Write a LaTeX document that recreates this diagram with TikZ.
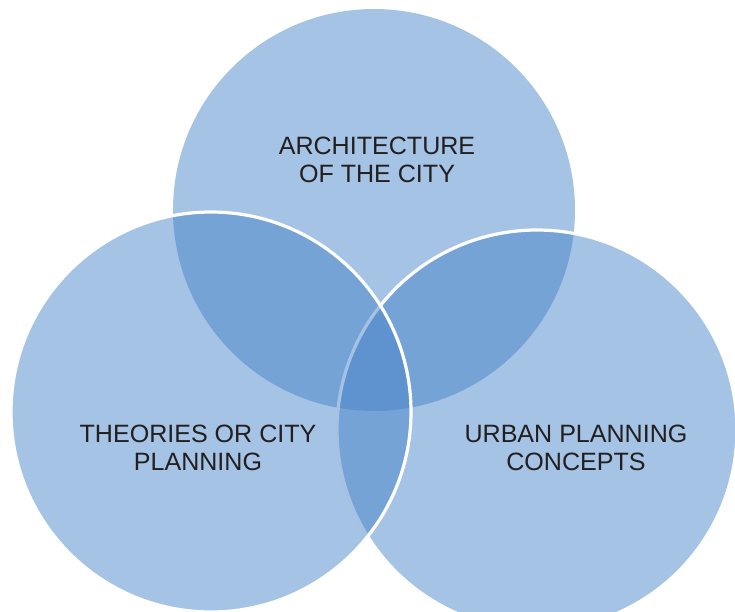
\documentclass[tikz,border=0pt]{standalone}
\usepackage{fontspec}
\setmainfont{Liberation Sans}
\definecolor{vennblue}{RGB}{67,129,199}
\definecolor{venntext}{RGB}{35,31,32}
\tikzset{
    venn/.style={circle, fill=vennblue, fill opacity=0.48, inner sep=0pt},
    vennrim/.style={venn, draw=white, line width=2.4pt},
    venntxt/.style={align=center, text=venntext, font=\fontsize{18.8}{20.9}\selectfont}
}

\begin{document}
\begin{tikzpicture}[x=0.75pt, y=-0.75pt]
    \clip (0,0) rectangle (735,611);
    \node[venn, minimum size=301.5pt] (arch) at (374,210) {};
    \node[vennrim, minimum size=300pt] (urban) at (537,430) {};
    \node[vennrim, minimum size=300pt] (theory) at (211,412) {};

    \node[venntxt] (archtxt) at (377,160) {ARCHITECTURE\\OF THE CITY};
    \node[venntxt] (theorytxt) at (198,448) {THEORIES OR CITY\\PLANNING};
    \node[venntxt] (urbantxt) at (576,448) {URBAN PLANNING\\CONCEPTS};
\end{tikzpicture}
\end{document}
